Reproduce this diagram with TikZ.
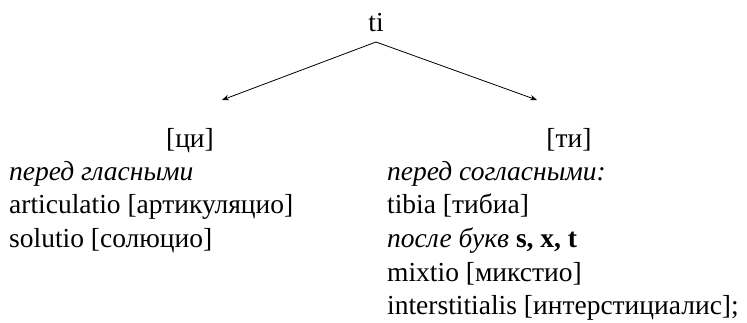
\documentclass[tikz,border=0pt]{standalone}
\usepackage{fontspec}
\setmainfont{Liberation Serif}
\usetikzlibrary{arrows.meta}
\begin{document}
\begin{tikzpicture}[x=1pt,y=-1pt,
  txt/.style={anchor=base west,inner sep=0pt,font=\fontsize{27.5}{29}\selectfont},
  ctr/.style={anchor=base,inner sep=0pt,font=\fontsize{27.5}{29}\selectfont},
  arr/.style={line width=0.8pt,-{Stealth[length=7pt,width=5.5pt]}}]
\useasboundingbox (0,0) rectangle (747,322);
\node[ctr] (ti) at (376,31) {ti};
\coordinate (apex) at (376,42);
\coordinate (lt) at (222,100);
\coordinate (rt) at (537,100);
\draw[arr] (apex) -- (lt);
\draw[arr] (apex) -- (rt);
\node[ctr] (ci) at (190,147) {[ци]};
\node[ctr] (tiR) at (569,147) {[ти]};
\node[txt] (l1) at (9,180) {\itshape перед гласными};
\node[txt] (l2) at (9,213.5) {articulatio [артикуляцио]};
\node[txt] (l3) at (9,247) {solutio [солюцио]};
\node[txt] (r1) at (387,180) {\itshape перед согласными:};
\node[txt] (r2) at (387,213.5) {tibia [тибиа]};
\node[txt] (r3) at (387,247) {\textit{после букв} \textbf{s, x, t}};
\node[txt] (r4) at (387,281) {mixtio [микстио]};
\node[txt] (r5) at (387,314) {interstitialis [интерстициалис];};
\end{tikzpicture}
\end{document}
